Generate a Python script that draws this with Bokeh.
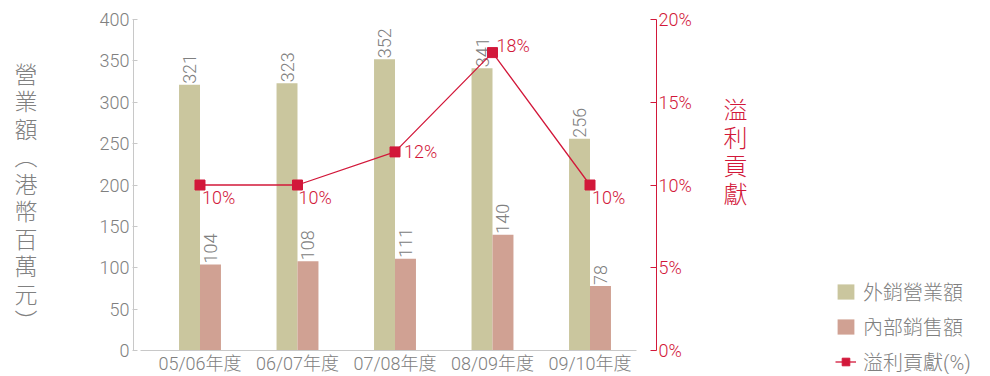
import math
from bokeh.plotting import figure
from bokeh.layouts import row
from bokeh.models import (ColumnDataSource, FactorRange, Range1d, LinearAxis,
                          SingleIntervalTicker, PrintfTickFormatter, Legend,
                          LegendItem, Label)
from bokeh.transform import dodge
from bokeh.core.properties import value
from bokeh.embed import file_html
from bokeh.resources import INLINE

# ---- data ----
years = ["05/06年度", "06/07年度", "07/08年度", "08/09年度", "09/10年度"]
external_sales = [321, 323, 352, 341, 256]   # 外銷營業額 (HK$ million)
internal_sales = [104, 108, 111, 140, 78]    # 內部銷售額 (HK$ million)
profit_contrib = [10, 10, 12, 18, 10]        # 溢利貢獻 (%)
left_title = "營業額︵港幣百萬元︶"
right_title = "溢利貢獻"
legend_labels = ["外銷營業額", "內部銷售額", "溢利貢獻(%)"]

# ---- styles ----
CJK = "'Noto Sans CJK TC Light', 'Noto Sans CJK TC'"
FONT = "'Roboto Light', 'Lato Light', 'Liberation Sans', " + CJK
GRAY = "#808080"
AXIS_GRAY = "#c8c8c8"
RED = "#d2183a"
KHAKI = "#cac69e"
PINK = "#d0a193"
BAR_W = 0.215
X_PAD = 0.182
pct_label_dx = [2, 1, 9, 4, 2]
pct_label_dy = [12, 12, 0, -7, 12]
H = 376
H_R = 400          # right panel is a little taller; the window crops it at 376
W_LEFT, W_MAIN = 45, 659
W_RIGHT = 990 - W_LEFT - W_MAIN
NAN = float("nan")

src = ColumnDataSource(dict(
    year=years,
    ext=external_sales,
    inn=internal_sales,
    pct=profit_contrib,
    ext_s=[str(v) for v in external_sales],
    inn_s=[str(v) for v in internal_sales],
    pct_s=[f"{v}%" for v in profit_contrib],
    dx=pct_label_dx,
    dy=pct_label_dy,
))


def blank_fig(w, h):
    f = figure(width=w, height=h, x_range=Range1d(0, w), y_range=Range1d(0, h),
               x_axis_location=None, y_axis_location=None,
               min_border=0, output_backend="svg", toolbar_location=None)
    f.outline_line_color = None
    f.xgrid.grid_line_color = None
    f.ygrid.grid_line_color = None
    return f


# ---------------- main chart ----------------
p = figure(
    x_range=FactorRange(*years, range_padding=X_PAD, range_padding_units="absolute"),
    y_range=Range1d(0, 400),
    width=W_MAIN, height=H,
    min_border_left=88, min_border_right=48,
    min_border_top=19, min_border_bottom=24,
    output_backend="svg", toolbar_location=None,
)
p.extra_y_ranges = {"pct": Range1d(0, 20)}
p.outline_line_color = None
p.xgrid.grid_line_color = None
p.ygrid.grid_line_color = None

b1 = p.vbar(x=dodge("year", -BAR_W / 2, range=p.x_range), top="ext", width=BAR_W,
            source=src, fill_color=KHAKI, line_color=None)
b2 = p.vbar(x=dodge("year", BAR_W / 2, range=p.x_range), top="inn", width=BAR_W,
            source=src, fill_color=PINK, line_color=None)

p.text(x=dodge("year", -BAR_W / 2, range=p.x_range), y="ext", text="ext_s", source=src,
       angle=math.pi / 2, text_align="left", text_baseline="middle", y_offset=-1,
       text_font=value(FONT), text_font_size="18px", text_color=GRAY)
p.text(x=dodge("year", BAR_W / 2, range=p.x_range), y="inn", text="inn_s", source=src,
       angle=math.pi / 2, text_align="left", text_baseline="middle", y_offset=-1,
       text_font=value(FONT), text_font_size="18px", text_color=GRAY)

ln = p.line(x="year", y="pct", source=src, y_range_name="pct", line_color=RED, line_width=1.3)
mk = p.scatter(x="year", y="pct", source=src, y_range_name="pct", marker="square",
               size=10, fill_color=RED, line_color=RED)
p.text(x="year", y="pct", text="pct_s", source=src, y_range_name="pct",
       x_offset="dx", y_offset="dy", text_align="left", text_baseline="middle",
       text_font=value(FONT), text_font_size="18px", text_color=RED)

ya = p.yaxis[0]
ya.ticker = SingleIntervalTicker(interval=50, num_minor_ticks=0)
ya.axis_line_color = AXIS_GRAY
ya.major_tick_line_color = AXIS_GRAY
ya.major_tick_in = 4
ya.major_tick_out = 1
ya.minor_tick_line_color = None
ya.major_label_text_font = FONT
ya.major_label_text_font_size = "18px"
ya.major_label_text_color = GRAY
ya.major_label_standoff = 3

xa = p.xaxis[0]
xa.bounds = (-X_PAD + 0.07, len(years) + X_PAD - 0.2)   # baseline a bit shorter than frame
xa.axis_line_color = AXIS_GRAY
xa.major_tick_line_color = None
xa.major_tick_in = 0
xa.major_tick_out = 0
xa.minor_tick_line_color = None
xa.major_label_text_font = FONT
xa.major_label_text_font_size = "18px"
xa.major_label_text_color = GRAY
xa.major_label_standoff = 2

ra = LinearAxis(y_range_name="pct",
                ticker=SingleIntervalTicker(interval=5, num_minor_ticks=0),
                formatter=PrintfTickFormatter(format="%d%%"))
ra.axis_line_color = RED
ra.major_tick_line_color = RED
ra.major_tick_in = 6
ra.major_tick_out = 0
ra.minor_tick_line_color = None
ra.major_label_text_font = FONT
ra.major_label_text_font_size = "18px"
ra.major_label_text_color = RED
ra.major_label_standoff = 2
p.add_layout(ra, "right")

# ---------------- left title panel ----------------
fl = blank_fig(W_LEFT, H)
fl.add_layout(Label(x=25.5, y=H - 201, text="\n".join(left_title),
                    text_align="center", text_baseline="middle",
                    text_font=CJK, text_font_size="23px", text_line_height=0.81,
                    text_color=GRAY))

# ---------------- right title + legend panel ----------------
fr = blank_fig(W_RIGHT, H_R)
fr.add_layout(Label(x=735 - (W_LEFT + W_MAIN), y=H_R - 148, text="\n".join(right_title),
                    text_align="center", text_baseline="middle",
                    text_font=CJK, text_font_size="24px", text_line_height=0.80,
                    text_color=RED))
g1 = fr.vbar(x=[NAN], top=[NAN], width=1, fill_color=KHAKI, line_color=None)
g2 = fr.vbar(x=[NAN], top=[NAN], width=1, fill_color=PINK, line_color=None)
g3 = fr.line(x=[NAN], y=[NAN], line_color=RED, line_width=1.3)
g4 = fr.scatter(x=[NAN], y=[NAN], marker="square", size=9,
                fill_color=RED, line_color=RED)
legend = Legend(items=[
    LegendItem(label=legend_labels[0], renderers=[g1]),
    LegendItem(label=legend_labels[1], renderers=[g2]),
    LegendItem(label=legend_labels[2], renderers=[g3, g4]),
], location=(835 - (W_LEFT + W_MAIN), -2))
legend.label_text_font = FONT
legend.label_text_font_size = "20px"
legend.label_text_color = GRAY
legend.glyph_width = 21
legend.glyph_height = 19
legend.spacing = 6
legend.padding = 0
legend.margin = 0
legend.label_standoff = 7
legend.border_line_color = None
legend.background_fill_alpha = 0
fr.add_layout(legend, "center")

layout = row(fl, p, fr, spacing=0)
open("out.html", "w").write(file_html(layout, INLINE))
